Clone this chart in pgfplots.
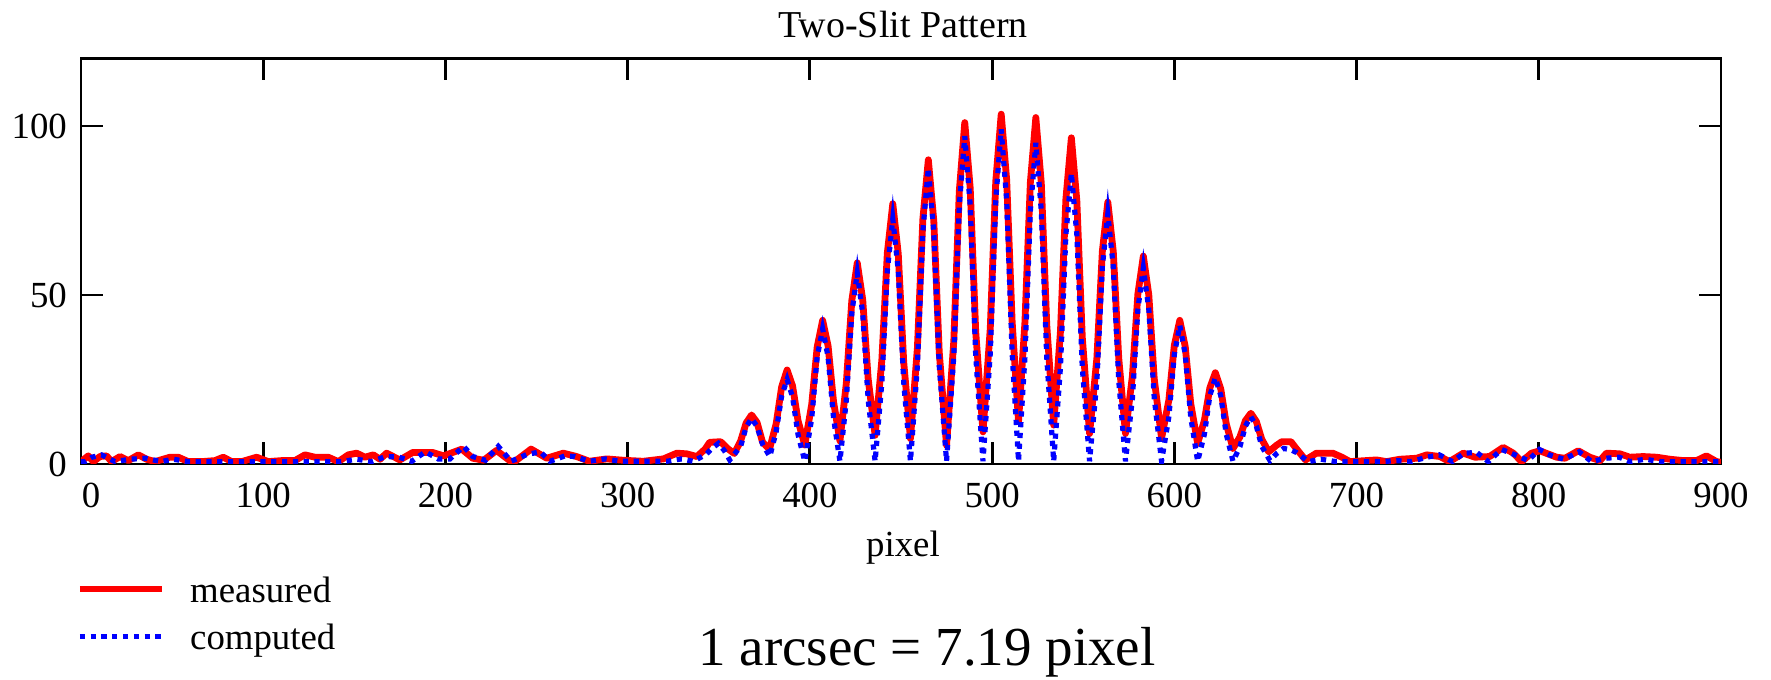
\documentclass[border=0pt]{standalone}
\usepackage{fontspec}
\setmainfont{Liberation Serif}
\usepackage{pgfplots}
\pgfplotsset{compat=1.18}

\definecolor{measred}{RGB}{255,0,0}
\definecolor{compblue}{RGB}{0,0,255}

\begin{document}
\begin{tikzpicture}
\useasboundingbox (-20.25pt,-54pt) rectangle (422.5pt,116pt);
\begin{axis}[
    at={(0pt,0pt)}, anchor=south west,
    scale only axis,
    width=410pt, height=101.4pt,
    xmin=0, xmax=900, ymin=0, ymax=120,
    xtick={100,200,...,900}, ytick={0,50,100},
    extra x ticks={0},
    extra x tick style={xticklabel style={xshift=2.5pt}},
    tick align=inside,
    major tick length=5.4pt,
    axis line style={line width=0.7pt},
    every tick/.style={black, line width=0.7pt},
    tick label style={font=\fontsize{9.2}{10}\selectfont},
    /pgf/number format/assume math mode=true,
    xticklabel style={yshift=-1.3pt},
    legend cell align=left,
    legend image code/.code={\draw[#1] (0pt,1.35pt) -- (20.6pt,1.35pt);},
    legend style={
        at={(0,0)}, anchor=north west,
        xshift=-1.35pt, yshift=-27.9pt,
        draw=none, fill=none, inner sep=0pt,
        row sep=2.8pt, column sep=6.15pt,
        font=\fontsize{9.2}{10}\selectfont,
        nodes={inner sep=0pt, text height=6.5pt, text depth=2.5pt},
    },
]
% measured
\addplot[measred, line width=1.7pt, line join=round] coordinates {
(0,0.7) (4,2.4) (6.8,0.7) (10.4,2.2) (14,2.4) (16.8,0.7) (21.4,2.2) (26,1) (31.5,2.7) (36,1.4)
(40.6,0.7) (48.8,2) (53.4,2) (58.9,0.7) (66.2,0.7) (73.5,1) (78.1,2) (82.7,0.7) (88.2,0.7) (96.4,2)
(102.8,0.7) (110.1,1) (117.4,1) (122.9,2.7) (128.4,2) (135.7,2) (141.2,0.7) (146.7,2.7) (151.3,3.2)
(155.8,2) (160.4,2.7) (164.1,1.4) (167.7,3.2) (175,1.2) (182,3.4) (193,3.4) (199,2.4) (209,4.4)
(215,1.7) (221,1.1) (228,4.0) (237,0.3) (247,4.4) (255.6,1.7) (264.7,3.2) (272,2.2) (279,0.8)
(288.5,1.5) (297.6,1.1) (308.6,0.8) (319.6,1.5) (327,3.2) (332.4,3) (338,2.2)
(342.5,4.4) (345,6.4) (351,6.6) (355,4.5) (358.5,3.1)
(362,6.8) (365,12.1) (368,14.5) (371,12.3) (374,6.5) (377.8,4.3)
(381.5,11.9) (384.5,22.8) (387.5,27.8) (390.5,23.1) (393.5,12.8) (397.2,5.6)
(401,17.6) (404,34.6) (407,42.5) (410,34.9) (413,18.4) (416.5,6.8)
(420,23.9) (423,48.3) (426,59.5) (429,48.6) (432,25.1) (435.8,8.5)
(439.5,30.8) (442.5,62.4) (445.5,77) (448.5,62.2) (451.5,30.1) (455.2,7.5)
(459,34.3) (462,72.4) (465,90) (468,72.0) (471,33) (475,5.5)
(479,36.5) (482,80.7) (485,101) (488,81.5) (491,39.2) (495,9.5)
(499,40.1) (502,83.5) (505,103.5) (508,84.1) (511,42.1) (514.5,12.5)
(518,41.8) (521,83.3) (524,102.5) (527,83.1) (530,41.1) (533.8,11.5)
(537.5,39.1) (540.5,78.4) (543.5,96.5) (546.5,77.9) (549.5,37.4) (553.5,9)
(557.5,31.3) (560.5,62.9) (563.5,77.5) (566.5,62.9) (569.5,31.3) (573.2,9)
(577,26.1) (580,50.3) (583,61.5) (586,50.0) (589,25.1) (593,7.6)
(597,18.9) (600,35.1) (603,42.5) (606,34.7) (609,17.9) (612.8,6.1)
(616.5,12.9) (619.5,22.5) (622.5,27) (625.5,22.2) (628.5,11.9) (632.2,4.6)
(636,8.0) (639,12.8) (642,15) (645,12.6) (648,7.3) (651.8,3.6)
(656,5.5) (659,6.6) (664,6.6) (667,4.5) (672,1.2)
(678,3.2) (687,3.2) (692,2) (696.4,0.7) (711,1.2) (716.5,0.7) (723.8,1.4) (733,1.7) (738.5,2.7)
(745.8,2.2) (751,0.7) (758.6,3.2) (765,2) (773,2.2) (780.5,4.9) (786,3.2) (790.6,0.7) (796,3.2)
(800.6,3.9) (809.8,2) (814.4,1.7) (821.7,3.9) (828,2) (833.6,1) (837.2,3.2) (844.5,3) (850,2)
(857.3,2.2) (864.7,2) (872,1.4) (879.3,1) (886.6,1) (892,2.4) (897.6,0.7) (900,0.5)
};
\addlegendentry{measured}
% computed
\addplot[compblue, line width=1.3pt, dash pattern=on 1.3pt off 1.4pt] coordinates {
(0,0.7) (2.2,0.7) (6,2) (11.3,2.7) (18.6,0.7) (26.9,1.4) (35.5,1.7) (43.9,0.7) (50.7,1.4) (58.9,0.7)
(67.7,0.7) (75.7,0.7) (84.1,0.7) (92.7,0.7) (101,0.7) (109.2,0.7) (117.4,0.7) (125.7,0.7) (134.3,0.7)
(142.7,0.7) (151.3,1.4) (159.5,0.7) (167.2,2.2) (174,2.1) (181.5,0.8) (189,3.6) (196,1.5) (202.5,1.5)
(210,5.2) (215,2.2) (222,1.1) (229,5.2) (236,0.8) (244.6,2.8) (252,3.6) (257.4,0.8) (265.6,2.4)
(271,2.2) (279,0.8) (287.6,1.5) (296,0.8) (305,0.8) (313,0.8) (321.4,0.8) (329.6,1.5) (336,0.8)
(343,2.8) (346,4.5) (349.8,6.1) (353,4) (356,1.2)
(362,5.2) (365,10.9) (368,13.5) (371,11.1) (374,5.9) (378,2.2)
(381.5,9.6) (384.5,20.1) (387.5,25) (390.5,19.8) (393.5,8.7) (397.2,0.8)
(401,13.5) (404,31.6) (407,40) (410,31.6) (413,13.5) (416.5,0.8)
(420,18.9) (423,44.6) (426,56.5) (429,44.6) (432,18.9) (435.8,0.8)
(439.5,24.1) (442.5,57.2) (445.5,72.5) (448.5,57.2) (451.5,24.1) (455.2,0.8)
(459,29) (462,69) (465,87.5) (468,69) (471,29) (475,0.8)
(479,32.1) (482,76.5) (485,97) (488,76.5) (491,32.1) (495,0.8)
(499,32.7) (502,78.1) (505,99) (508,78.1) (511,32.7) (514.5,0.8)
(518,31.4) (521,74.9) (524,95) (527,74.9) (530,31.4) (533.8,0.8)
(537.5,28.5) (540.5,67.9) (543.5,86) (546.5,67.9) (549.5,28.5) (553.5,0.8)
(557.5,24.6) (560.5,58.4) (563.5,74) (566.5,58.4) (569.5,24.6) (573.2,0.8)
(577,19.4) (580,45.8) (583,58) (586,45.8) (589,19.4) (593,0.8)
(597,13.9) (600,32.4) (603,41) (606,32.4) (609,13.9) (612.8,0.8)
(616.5,8.8) (619.5,20.2) (622.5,25.5) (625.5,20.2) (628.5,8.8) (632.2,0.8)
(636,5.1) (639,11.2) (642,14) (645,11.2) (648,5.2) (652.5,1.0)
(656,3) (660,4.6) (664,4.2) (667,3.4) (673.5,0.7)
(680.5,1.4) (688.7,0.7) (696.8,0.7) (705.5,0.7) (713.8,0.7) (722,1) (730,0.7) (738.5,2) (745.4,2.7)
(752.7,0.7) (759,3.2) (766,3.4) (772.3,0.7) (779.6,4.3) (787,2.7) (794.2,1) (800.3,4.3) (805.8,2.7)
(813.8,1.4) (822.2,3.6) (829,0.7) (836.9,1.7) (844.2,2) (850,0.7) (858.3,1.4) (866.9,0.7) (875.3,0.7)
(883.5,0.7) (892,0.7) (899,0.7)
};
\addlegendentry{computed}
\end{axis}
\node[anchor=base, font=\fontsize{9.5}{11}\selectfont] at (205.5pt,106.6pt) {Two-Slit Pattern};
\node[anchor=base, font=\fontsize{9.2}{10}\selectfont] at (205.5pt,-23.2pt) {pixel};
\node[anchor=base, font=\fontsize{13.75}{16}\selectfont] at (211.5pt,-50.3pt) {1 arcsec = 7.19 pixel};
\end{tikzpicture}
\end{document}
